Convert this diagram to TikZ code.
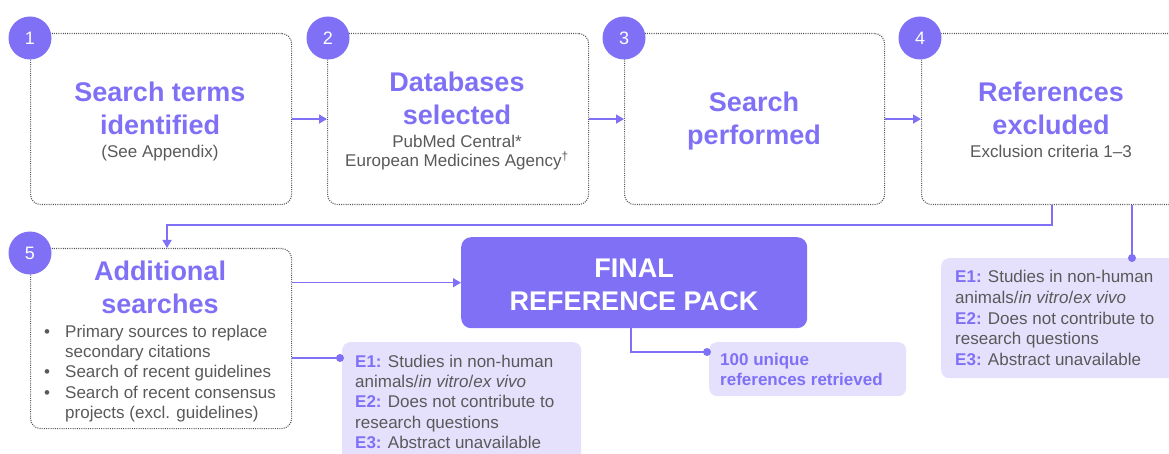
\documentclass[tikz,border=0pt]{standalone}
\usepackage{fontspec}
\setmainfont{Liberation Sans}
\usetikzlibrary{arrows.meta,calc}
\definecolor{pur}{HTML}{7F70F5}
\definecolor{lpur}{HTML}{E5E1FD}
\definecolor{gtxt}{HTML}{595959}
\definecolor{dotc}{HTML}{555555}
\tikzset{
  stepbox/.style={draw=dotc, line width=1.1pt, dash pattern=on 1pt off 1.2pt, rounded corners=10pt, anchor=north west, inner sep=0pt},
  numc/.style={circle, fill=pur, text=white, minimum size=43pt, inner sep=0pt, font=\fontsize{18}{18}\selectfont},
  ttl/.style={text=pur, font=\fontsize{27}{33}\selectfont\bfseries, anchor=base, inner sep=0pt},
  sub/.style={text=gtxt, font=\fontsize{17}{20}\selectfont, anchor=base, inner sep=0pt},
  subw/.style={sub, anchor=base west},
  ebox/.style={fill=lpur, rounded corners=8pt, anchor=north west, inner sep=0pt},
  arr/.style={draw=pur, line width=1.5pt, -{Triangle[length=8pt,width=9pt]}},
  conn/.style={draw=pur, line width=1.5pt},
  dotm/.style={fill=pur},
}
\newcommand{\EE}[1]{\textcolor{pur}{\bfseries #1}}
\begin{document}
\begin{tikzpicture}[x=1pt,y=-1pt]
\useasboundingbox (0,0) rectangle (1169,454);
% main boxes
\node[stepbox, minimum width=261pt, minimum height=171pt] (box1) at (30,33) {};
\node[stepbox, minimum width=261pt, minimum height=171pt] (box2) at (327,33) {};
\node[stepbox, minimum width=260pt, minimum height=171pt] (box3) at (624,33) {};
\node[stepbox, minimum width=261pt, minimum height=171pt] (box4) at (921,33) {};
\node[stepbox, minimum width=261pt, minimum height=180pt] (box5) at (30,248) {};
% final pack
\node[fill=pur, rounded corners=10pt, anchor=north west, inner sep=0pt, minimum width=346pt, minimum height=91pt] (final) at (461,237) {};
% exclusion boxes
\node[ebox, minimum width=239pt, minimum height=130pt] (eb1) at (342,342) {};
\node[ebox, minimum width=197pt, minimum height=54pt] (eb2) at (709,342) {};
\node[ebox, minimum width=250pt, minimum height=120pt] (eb3) at (941,258) {};
% number circles
\node[numc] (n1) at (30,38) {1};
\node[numc] (n2) at (328,38) {2};
\node[numc] (n3) at (624,38) {3};
\node[numc] (n4) at (920,38) {4};
\node[numc] (n5) at (30,253) {5};
% box 1 text
\node[ttl] (t1a) at (160,102) {Search terms};
\node[ttl] (t1b) at (160,135) {identified};
\node[sub] (t1c) at (160,158) {(See Appendix)};
% box 2 text
\node[ttl] (t2a) at (457,92) {Databases};
\node[ttl] (t2b) at (457,125) {selected};
\node[sub] (t2c) at (457,148) {PubMed Central*};
\node[sub] (t2d) at (457,167) {European Medicines Agency\textsuperscript{\dag}};
% box 3 text
\node[ttl] (t3a) at (754,112) {Search};
\node[ttl] (t3b) at (754,145) {performed};
% box 4 text
\node[ttl] (t4a) at (1051,102) {References};
\node[ttl] (t4b) at (1051,135) {excluded};
\node[sub] (t4c) at (1051,158) {Exclusion criteria 1–3};
% box 5 text
\node[ttl] (t5a) at (160,280) {Additional};
\node[ttl] (t5b) at (160,313) {searches};
\node[sub] (b1) at (47,337) {•};
\node[subw] (t5c) at (65,337) {Primary sources to replace};
\node[subw] (t5d) at (65,357) {secondary citations};
\node[sub] (b2) at (47,377) {•};
\node[subw] (t5e) at (65,377) {Search of recent guidelines};
\node[sub] (b3) at (47,398) {•};
\node[subw] (t5f) at (65,398) {Search of recent consensus};
\node[subw] (t5g) at (65,418) {projects (excl. guidelines)};
% final text
\node[anchor=base, inner sep=0pt, text=white, font=\fontsize{27}{33}\selectfont\bfseries] (fa) at (634,277) {FINAL};
\node[anchor=base, inner sep=0pt, text=white, font=\fontsize{27}{33}\selectfont\bfseries] (fb) at (634,310) {REFERENCE PACK};
% exclusion text bottom
\node[subw] (e1a) at (355,367) {\EE{E1:} Studies in non-human};
\node[subw] (e1b) at (355,387) {animals/\textit{in vitro}/\textit{ex vivo}};
\node[subw] (e1c) at (355,407) {\EE{E2:} Does not contribute to};
\node[subw] (e1d) at (355,428) {research questions};
\node[subw] (e1e) at (355,448) {\EE{E3:} Abstract unavailable};
% 100 box
\node[subw, text=pur, font=\fontsize{17}{20}\selectfont\bfseries] (h1) at (720,365) {100 unique};
\node[subw, text=pur, font=\fontsize{17}{20}\selectfont\bfseries] (h2) at (720,385) {references retrieved};
% exclusion text right
\node[subw] (e3a) at (955,283) {\EE{E1:} Studies in non-human};
\node[subw] (e3b) at (955,303) {animals/\textit{in vitro}/\textit{ex vivo}};
\node[subw] (e3c) at (955,324) {\EE{E2:} Does not contribute to};
\node[subw] (e3d) at (955,344) {research questions};
\node[subw] (e3e) at (955,365) {\EE{E3:} Abstract unavailable};
% connectors
\draw[arr] (box1.east) -- (box2.west);
\draw[arr] (box2.east) -- (box3.west);
\draw[arr] (box3.east) -- (box4.west);
\draw[arr] (box4.south) -- ++(0,20) -| ($(box5.north)+(6,0)$);
\draw[arr] (final.west -| box5.east) -- (final.west);
\coordinate (d1) at (340,358);
\coordinate (d2) at (707,352);
\coordinate (d3) at (1132,258);
\draw[conn] (box5.east |- d1) -- (d1);
\fill[dotm] (d1) circle (4pt);
\draw[conn] ($(final.south)+(-3,0)$) |- (d2);
\fill[dotm] (d2) circle (4pt);
\draw[conn] (d3 |- box4.south) -- (d3);
\fill[dotm] (d3) circle (4pt);
\end{tikzpicture}
\end{document}
